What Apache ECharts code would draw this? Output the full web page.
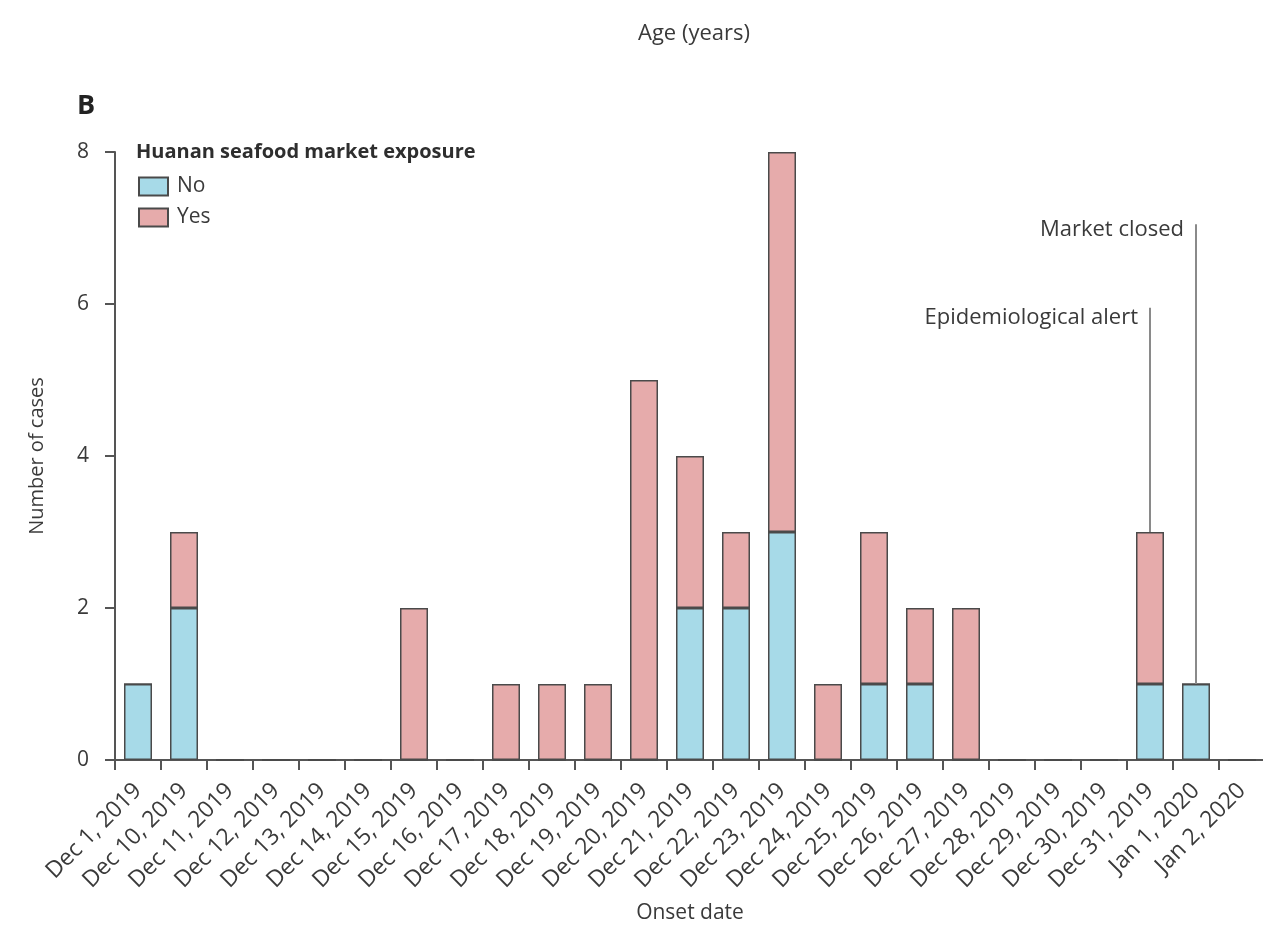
<!DOCTYPE html>
<html>
<head>
<meta charset="utf-8">
<script src="https://cdn.jsdelivr.net/npm/echarts@6/dist/echarts.min.js"></script>
<style>
html,body{margin:0;padding:0;background:#fff;}
#chart{width:1263px;height:925px;}
</style>
</head>
<body>
<div id="chart"></div>
<script>
// ---- data ----
const categories = ['Dec 1, 2019','Dec 10, 2019','Dec 11, 2019','Dec 12, 2019','Dec 13, 2019','Dec 14, 2019','Dec 15, 2019','Dec 16, 2019','Dec 17, 2019','Dec 18, 2019','Dec 19, 2019','Dec 20, 2019','Dec 21, 2019','Dec 22, 2019','Dec 23, 2019','Dec 24, 2019','Dec 25, 2019','Dec 26, 2019','Dec 27, 2019','Dec 28, 2019','Dec 29, 2019','Dec 30, 2019','Dec 31, 2019','Jan 1, 2020','Jan 2, 2020'];
const exposureNo  = [1,2,0,0,0,0,0,0,0,0,0,0,2,2,3,0,1,1,0,0,0,0,1,1,0];
const exposureYes = [0,1,0,0,0,0,2,0,1,1,1,5,2,1,5,1,2,1,2,0,0,0,2,0,0];
const yTicks = [0,2,4,6,8];
const annotLabels = ['Epidemiological alert','Market closed'];
const annotCats = ['Dec 31, 2019','Jan 1, 2020'];
const annotTops = [5.95, 7.05];
const annotLabelY = [5.82, 6.98];

// ---- chart ----
const FONT = '"Open Sans", "Noto Sans", sans-serif';
const TXT = '#3a3a3a';
const chart = echarts.init(document.getElementById('chart'), null, {renderer:'canvas'});

const totals = categories.map((c,i)=>exposureNo[i]+exposureYes[i]);
const annotLines = annotCats.map((c,i)=>{
  const idx = categories.indexOf(c);
  return [{coord:[c, totals[idx]]},{coord:[c, annotTops[i]]}];
});
const annotPoints = annotCats.map((c,i)=>({name:annotLabels[i], value:[c, annotLabelY[i]]}));

const option = {
  animation:false,
  backgroundColor:'#fff',
  textStyle:{fontFamily:FONT},
  title:[
    {text:'Age (years)', left:633, top:18, textStyle:{fontFamily:FONT, fontSize:22, fontWeight:'normal', color:TXT}},
    {text:'B', left:72, top:88, textStyle:{fontFamily:FONT, fontSize:27, fontWeight:'bold', color:'#222'}},
    {text:'Huanan seafood market exposure', left:131, top:137, textStyle:{fontFamily:FONT, fontSize:20, fontWeight:'bold', color:'#2e2e2e'}}
  ],
  legend:{
    data:['No','Yes'], orient:'vertical', left:133, top:171, icon:'rect',
    itemWidth:29, itemHeight:18, itemGap:10,
    textStyle:{fontFamily:FONT, fontSize:21, color:TXT, padding:[0,0,0,4]},
    selectedMode:false
  },
  grid:{left:115, top:152, width:1150, height:608, containLabel:false, outerBoundsMode:'none'},
  xAxis:{
    type:'category', data:categories, boundaryGap:true,
    name:'Onset date', nameLocation:'middle', nameGap:143,
    nameTextStyle:{fontFamily:FONT, fontSize:21, color:TXT},
    axisLine:{lineStyle:{color:'#555', width:2}},
    axisTick:{show:true, length:10, lineStyle:{color:'#555', width:2}},
    axisLabel:{interval:0, rotate:45, margin:27, fontFamily:FONT, fontSize:23, color:TXT}
  },
  yAxis:{
    type:'value', min:0, max:8, interval:2,
    name:'Number of cases', nameLocation:'middle', nameGap:68,
    nameTextStyle:{fontFamily:FONT, fontSize:20, color:TXT},
    axisLine:{show:true, lineStyle:{color:'#555', width:2}},
    axisTick:{show:true, length:10, lineStyle:{color:'#555', width:2}},
    axisLabel:{margin:26, fontFamily:FONT, fontSize:21, color:TXT, formatter:(v)=> yTicks.includes(v)? String(v):''},
    splitLine:{show:false}
  },
  series:[
    {name:'No', type:'bar', stack:'cases', data:exposureNo, barWidth:28,
     itemStyle:{color:'#a7dae8', borderColor:'#4a4a4a', borderWidth:1.5}},
    {name:'Yes', type:'bar', stack:'cases', data:exposureYes, barWidth:28,
     itemStyle:{color:'#e6abab', borderColor:'#4a4a4a', borderWidth:1.5},
     markLine:{silent:true, symbol:['none','none'], label:{show:false},
       lineStyle:{color:'#8a8a8a', width:2, type:'solid'}, data:annotLines}},
    {name:'annot', type:'scatter', symbolSize:0, data:annotPoints, silent:true,
     itemStyle:{opacity:1},
     label:{show:true, position:'left', distance:12, formatter:'{b}', fontFamily:FONT, fontSize:22, color:TXT}}
  ]
};
chart.setOption(option);
</script>
</body>
</html>
